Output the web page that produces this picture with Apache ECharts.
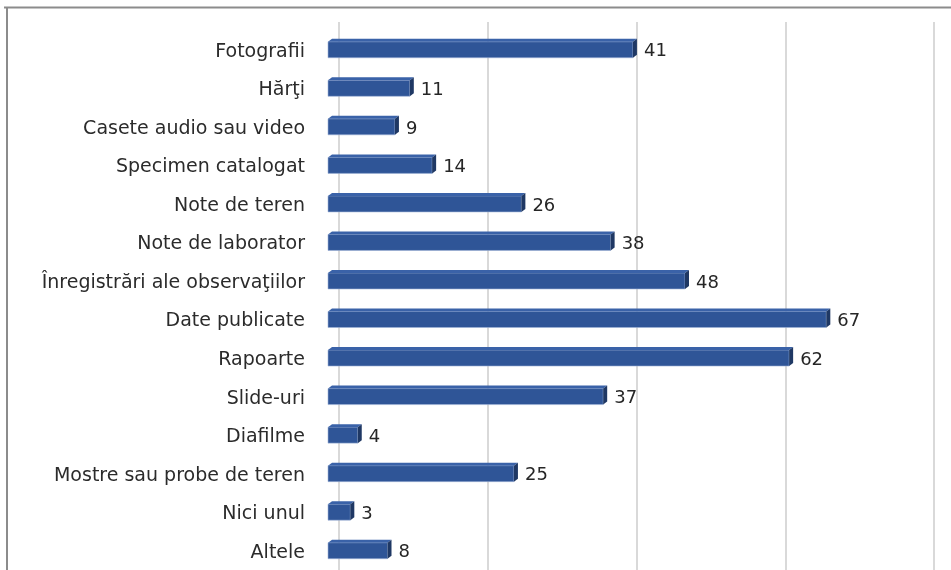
<!DOCTYPE html>
<html>
<head>
<meta charset="utf-8">
<script src="https://cdn.jsdelivr.net/npm/echarts@6/dist/echarts.min.js"></script>
<style>html,body{margin:0;padding:0;background:#fff}#c{width:951px;height:570px}</style>
</head>
<body>
<div id="c"></div>
<script>
var categories = ["Fotografii","Hărţi","Casete audio sau video","Specimen catalogat","Note de teren","Note de laborator","Înregistrări ale observaţiilor","Date publicate","Rapoarte","Slide-uri","Diafilme","Mostre sau probe de teren","Nici unul","Altele"];
var values = [41,11,9,14,26,38,48,67,62,37,4,25,3,8];
var axisMax = 80;
var axisInterval = 20;

var FONT = "'DejaVu Sans', 'Open Sans', sans-serif";
var chart = echarts.init(document.getElementById('c'), null, {renderer:'canvas'});
var DX = 4, DY = -3, BH = 16;

chart.setOption({
  animation:false,
  backgroundColor:'#ffffff',
  graphic:[
    {type:'line', shape:{x1:4,y1:7.5,x2:951,y2:7.5}, style:{stroke:'#8c8c8c', lineWidth:2}, silent:true},
    {type:'line', shape:{x1:7,y1:7,x2:7,y2:570}, style:{stroke:'#8c8c8c', lineWidth:2}, silent:true}
  ],
  grid:[
    {left:339, top:22, width:595, height:548},
    {left:328, top:30.5, width:595, height:546}
  ],
  xAxis:[
    {gridIndex:0, type:'value', min:0, max:axisMax, interval:axisInterval,
     axisLabel:{show:false}, axisLine:{show:false}, axisTick:{show:false},
     splitLine:{show:true, lineStyle:{color:'#d9d9d9', width:2}}},
    {gridIndex:1, type:'value', min:0, max:axisMax, interval:axisInterval,
     axisLabel:{show:false}, axisLine:{show:false}, axisTick:{show:false}, splitLine:{show:false}}
  ],
  yAxis:[
    {gridIndex:0, type:'category', data:categories, inverse:true, show:false},
    {gridIndex:1, type:'category', data:categories, inverse:true,
     axisLine:{show:false}, axisTick:{show:false},
     axisLabel:{margin:23, color:'#2b2b2b', fontSize:19, fontFamily:FONT,
       formatter:function(v){return '{a|'+v+'}';},
       rich:{a:{fontSize:19, fontFamily:FONT, color:'#2b2b2b', padding:[4,0,0,0]}}}}
  ],
  series:[{
    type:'custom', xAxisIndex:1, yAxisIndex:1,
    data: values.map(function(v,i){return [v,i];}),
    renderItem:function(params, api){
      var v = api.value(0), c = api.value(1);
      var p0 = api.coord([0,c]), p1 = api.coord([v,c]);
      var x0 = p0[0], x1 = p1[0], yc = p0[1];
      var yt = yc - BH/2, yb = yc + BH/2;
      return {type:'group', children:[
        {type:'rect', shape:{x:x0, y:yt, width:x1-x0, height:BH}, style:{fill:'#2f5597', stroke:'#9fb3d6', lineWidth:0.6}},
        {type:'polygon', shape:{points:[[x0,yt],[x0+DX,yt+DY],[x1+DX,yt+DY],[x1,yt]]}, style:{fill:'#3a62a8'}},
        {type:'polygon', shape:{points:[[x1,yt],[x1+DX,yt+DY],[x1+DX,yb+DY],[x1,yb]]}, style:{fill:'#1f3864'}},
        {type:'text', x:x1+DX+7, y:yc+2, style:{text:String(v), fill:'#262626', font:'18px '+FONT, verticalAlign:'middle', align:'left'}}
      ]};
    }
  }]
});
</script>
</body>
</html>
